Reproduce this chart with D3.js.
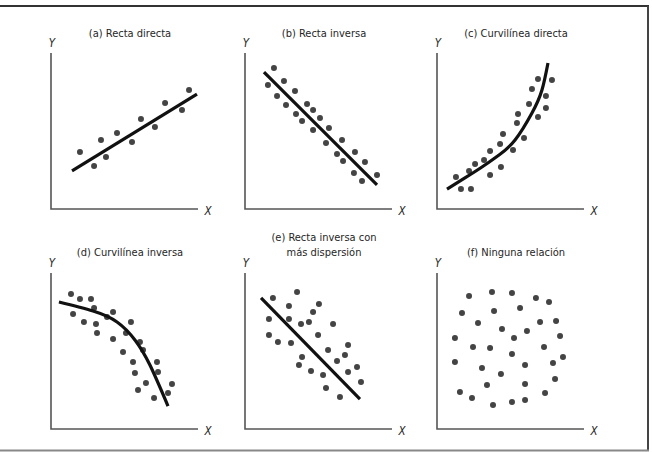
<!DOCTYPE html>
<html>
<head>
<meta charset="utf-8">
<script src="https://cdn.jsdelivr.net/npm/d3@7"></script>
<style>
    body { margin: 0; background: #fff; }
    svg { display: block; }
    .titre { font-family: "DejaVu Sans Condensed", "Liberation Sans Narrow", sans-serif; font-size: 11px; fill: #262626; }
    .axe-lbl { font-family: "DejaVu Sans Condensed", "Liberation Sans Narrow", sans-serif; font-size: 11.5px; font-style: italic; fill: #262626; }
</style>
</head>
<body>
<div id="graphe"></div>
<script>
/*-------------------- Données (échelle 0-100) -------------------*/

var titresA = ["(a) Recta directa"];
var titresB = ["(b) Recta inversa"];
var titresC = ["(c) Curvilínea directa"];
var titresD = ["(d) Curvilínea inversa"];
var titresE = ["(e) Recta inversa con", "más dispersión"];
var titresF = ["(f) Ninguna relación"];

var pointsA = [[19.7,36.5],[29.3,27.6],[34.0,44.2],[37.4,33.3],[44.9,48.7],[55.1,42.9],
               [61.2,57.7],[70.7,52.6],[77.6,67.9],[89.1,63.5],[93.9,76.3]];
var ligneA = [[14.3,24.4],[99.3,73.7]];

var pointsB = [[19.7,90.4],[15.6,79.5],[26.5,82.1],[21.8,72.4],[34.0,75.6],[27.9,66.7],
               [42.2,67.3],[34.7,60.9],[46.3,63.5],[38.8,56.4],[51.0,58.3],[46.3,50.6],
               [57.1,51.9],[55.1,42.3],[66.0,44.2],[62.6,35.3],[66.7,30.8],[74.8,36.5],
               [74.1,23.1],[81.6,30.1],[79.6,17.9],[89.8,21.8]];
var ligneB = [[12.9,87.8],[89.8,15.4]];

var pointsC = [[12.9,20.5],[16.3,12.8],[23.1,12.8],[21.8,24.4],[25.9,28.8],[32.0,31.4],
               [36.1,21.8],[36.1,37.2],[43.5,26.9],[42.9,41.7],[44.9,48.1],[51.7,37.8],
               [54.4,55.1],[55.1,60.9],[59.2,45.5],[62.6,67.3],[68.7,59.0],[64.6,76.9],
               [68.7,83.3],[74.1,72.4],[74.1,64.7],[78.2,82.7]];
var courbeC = [[6.8,12.8],[19.0,19.9],[30.6,26.9],[42.2,34.6],[53.1,44.2],[64.6,61.5],
               [71.4,76.3],[75.5,93.6]];

var pointsD = [[13.6,86.5],[19.7,83.3],[27.2,83.3],[15.0,73.7],[29.3,77.6],[22.4,68.6],
               [30.6,67.3],[38.1,71.8],[42.2,75.0],[31.3,61.5],[54.4,68.6],[51.0,61.5],
               [42.2,57.7],[60.5,55.8],[62.6,50.6],[49.0,49.4],[55.8,42.9],[72.1,42.9],
               [57.1,35.9],[72.8,36.5],[64.6,29.5],[59.2,25.0],[82.3,28.8],[79.6,23.1],
               [70.1,19.9]];
var courbeD = [[5.4,81.4],[28.6,75.6],[44.9,68.6],[57.1,57.1],[67.3,41.0],[79.6,14.7]];

var pointsE = [[19.0,84.0],[35.4,87.8],[29.9,78.8],[16.3,70.5],[29.9,70.5],[46.3,75.0],
               [50.3,80.1],[38.1,67.3],[43.5,68.6],[59.9,67.3],[16.3,60.3],[22.4,55.8],
               [31.3,55.1],[49.7,60.3],[38.8,46.2],[56.5,50.6],[70.1,53.8],[36.7,41.0],
               [62.6,43.6],[68.0,47.4],[44.9,37.2],[53.1,34.6],[70.1,36.5],[76.2,39.7],
               [78.9,30.1],[55.1,26.3],[64.6,20.5]];
var ligneE = [[10.9,84.0],[78.2,19.2]];

var pointsF = [[21.8,85.3],[37.4,87.8],[51.0,87.2],[67.3,84.0],[76.2,81.4],[17.0,74.4],
               [38.8,75.6],[56.5,77.6],[27.9,67.9],[70.1,68.6],[81.0,69.2],[44.2,64.1],
               [61.2,62.8],[52.4,58.3],[83.7,59.6],[12.2,58.3],[24.5,52.6],[36.1,51.9],
               [72.8,52.6],[51.0,48.1],[85.7,46.2],[12.2,42.9],[59.9,41.0],[78.9,42.3],
               [30.6,39.1],[43.5,35.3],[80.3,32.1],[34.0,28.2],[59.9,28.8],[15.6,23.7],
               [23.8,19.9],[73.5,23.1],[38.1,15.4],[51.0,17.3],[59.9,18.6]];

var panneaux = [
    {titres: titresA, points: pointsA, trait: ligneA, courbe: false, col: 0, lig: 0},
    {titres: titresB, points: pointsB, trait: ligneB, courbe: false, col: 1, lig: 0},
    {titres: titresC, points: pointsC, trait: courbeC, courbe: true, col: 2, lig: 0},
    {titres: titresD, points: pointsD, trait: courbeD, courbe: true, col: 0, lig: 1},
    {titres: titresE, points: pointsE, trait: ligneE, courbe: false, col: 1, lig: 1},
    {titres: titresF, points: pointsF, trait: null, courbe: false, col: 2, lig: 1}
];

/*-------------------- Mise en page -------------------*/

var largeur = 652, hauteur = 452;
var origX = [51, 245, 437];
var basY = [209, 429];
var lgX = 147, htY = 156;

var svg = d3.select("#graphe").append("svg")
    .attr("width", largeur)
    .attr("height", hauteur);

// cadre (pas de bord gauche)
svg.append("line")
    .attr("x1", 0).attr("x2", 649).attr("y1", 6).attr("y2", 6)
    .style("stroke", "#333").style("stroke-width", 2);
svg.append("line")
    .attr("x1", 648).attr("x2", 648).attr("y1", 6).attr("y2", 451)
    .style("stroke", "#444").style("stroke-width", 2);
svg.append("line")
    .attr("x1", 0).attr("x2", 649).attr("y1", 450.5).attr("y2", 450.5)
    .style("stroke", "#888").style("stroke-width", 2);

function dessinePanneau(p) {
    var x0 = origX[p.col], y0 = basY[p.lig];

    var xScale = d3.scaleLinear().domain([0, 100]).range([x0, x0 + lgX]);
    var yScale = d3.scaleLinear().domain([0, 100]).range([y0, y0 - htY]);

    var g = svg.append("g");

    // axes
    g.append("path")
        .attr("d", "M" + xScale(0) + "," + yScale(100) + "V" + yScale(0) + "H" + xScale(100))
        .style("fill", "none")
        .style("stroke", "#555")
        .style("stroke-width", 1.6);

    g.append("text")
        .attr("class", "axe-lbl")
        .attr("x", xScale(0) + 1)
        .attr("y", yScale(100) - 6)
        .style("text-anchor", "middle")
        .text("Y");

    g.append("text")
        .attr("class", "axe-lbl")
        .attr("x", xScale(100) + 10)
        .attr("y", yScale(0) + 6)
        .style("text-anchor", "middle")
        .text("X");

    // titre
    var yTitre = p.lig === 0 ? 37 : 256;
    g.selectAll("text.titre")
        .data(p.titres)
        .enter()
        .append("text")
        .attr("class", "titre")
        .attr("x", x0 + 79)
        .attr("y", (d, i) => yTitre - (p.titres.length - 1 - i) * 15)
        .style("text-anchor", "middle")
        .text(d => d);

    // points
    g.selectAll("circle")
        .data(p.points)
        .enter()
        .append("circle")
        .attr("cx", d => xScale(d[0]))
        .attr("cy", d => yScale(d[1]))
        .attr("r", 3)
        .style("fill", "#444");

    // droite ou courbe
    if (p.trait) {
        var ligne = d3.line()
            .x(d => xScale(d[0]))
            .y(d => yScale(d[1]))
            .curve(p.courbe ? d3.curveNatural : d3.curveLinear);
        g.append("path")
            .datum(p.trait)
            .attr("d", ligne)
            .style("fill", "none")
            .style("stroke", "#111")
            .style("stroke-width", 3.2)
            .style("stroke-linecap", "butt");
    }
}

panneaux.forEach(dessinePanneau);
</script>
</body>
</html>
